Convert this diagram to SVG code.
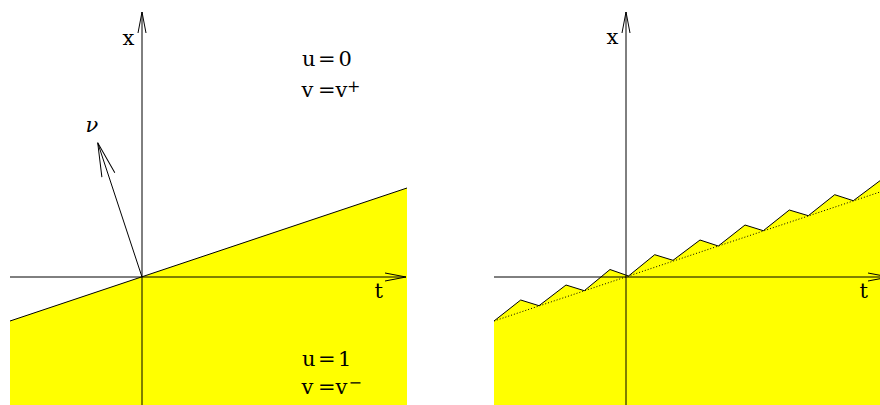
<svg xmlns="http://www.w3.org/2000/svg" width="880" height="405" viewBox="0 0 880 405">
  <style>
    .fill { fill: #ffff00; stroke: none; }
    .edge { fill: none; stroke: #000; stroke-width: 1; }
    .axis { fill: none; stroke: #000; stroke-width: 1; marker-end: url(#ah); }
    .dot { fill: none; stroke: #000; stroke-width: 1; stroke-dasharray: 1 2; }
    .lbl { font-family: 'DejaVu Serif', serif; font-size: 21px; fill: #000; }
    .sup { font-size: 16px; }
    .nu { font-family: 'DejaVu Serif', serif; font-size: 21px; font-style: italic; fill: #000; }
  </style>
  <defs>
    <marker id="ah" markerUnits="userSpaceOnUse" orient="auto" refX="0" refY="0" markerWidth="40" markerHeight="20" overflow="visible">
      <path d="M-21,-4 L0,0 L-21,4" fill="none" stroke="#000" stroke-width="1"/>
    </marker>
    <marker id="ahn" markerUnits="userSpaceOnUse" orient="auto" refX="0" refY="0" markerWidth="40" markerHeight="20" overflow="visible">
      <path d="M-34,-6.8 L0,0 L-34,6.8" fill="none" stroke="#000" stroke-width="1"/>
    </marker>
  </defs>

  <g id="left-panel">
    <polygon class="fill" points="10,321 407,188 407,405 10,405"/>
    <g id="left-connectors">
      <line class="axis" x1="10" y1="277" x2="406" y2="277"/>
      <line class="axis" x1="142" y1="405" x2="142" y2="12"/>
      <line class="edge" x1="10" y1="321" x2="407" y2="188"/>
      <line class="edge" x1="142" y1="277" x2="97.7" y2="142.7" marker-end="url(#ahn)"/>
    </g>
    <text class="lbl" x="122.5" y="45">x</text>
    <text class="lbl" x="374.5" y="298">t</text>
    <text class="nu" x="85.5" y="132">ν</text>
    <text class="lbl" y="66"><tspan x="302">u</tspan><tspan x="318">=</tspan><tspan x="338.5">0</tspan></text>
    <text class="lbl" y="96.7"><tspan x="301.5">v</tspan><tspan x="318">=</tspan><tspan x="335.5">v</tspan><tspan class="sup" x="347" dy="-4.5">+</tspan></text>
    <text class="lbl" y="365.5"><tspan x="302">u</tspan><tspan x="318">=</tspan><tspan x="338">1</tspan></text>
    <text class="lbl" y="393.5"><tspan x="301.5">v</tspan><tspan x="318">=</tspan><tspan x="335.5">v</tspan><tspan class="sup" x="348.5" dy="-6">−</tspan></text>
  </g>

  <g id="right-panel">
    <polygon class="fill" points="494,321 520.7,300 539,305.7 566,285 584.3,290.7 610,269.5 628.5,276 654.7,254.7 673,260.3 700,240 718.3,246 745,225 763.3,230.7 789.3,210 808.3,215.7 834.7,194.7 853.3,200.7 880,180.7 880,405 494,405"/>
    <g id="right-connectors">
      <line class="axis" x1="494" y1="277" x2="889" y2="277"/>
      <line class="axis" x1="626" y1="405" x2="626" y2="12"/>
      <line class="dot" x1="494" y1="321" x2="880" y2="192"/>
      <polyline class="edge" points="494,321 520.7,300 539,305.7 566,285 584.3,290.7 610,269.5 628.5,276 654.7,254.7 673,260.3 700,240 718.3,246 745,225 763.3,230.7 789.3,210 808.3,215.7 834.7,194.7 853.3,200.7 880,180.7"/>
    </g>
    <text class="lbl" x="606.5" y="43.5">x</text>
    <text class="lbl" x="859.5" y="298">t</text>
  </g>
</svg>
